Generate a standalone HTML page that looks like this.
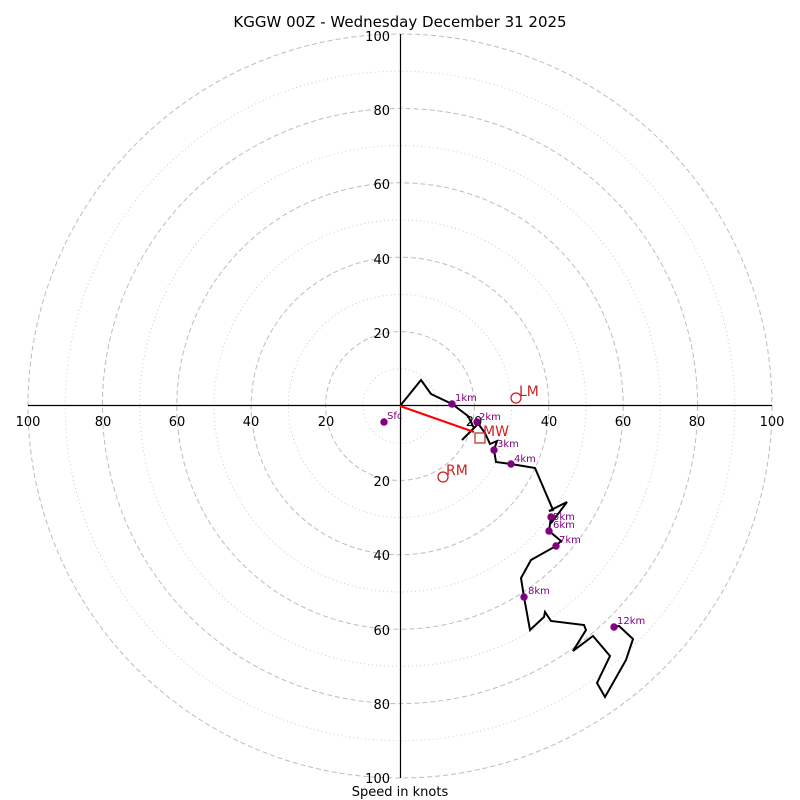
<!DOCTYPE html>
<html><head><meta charset="utf-8"><style>body{margin:0;background:#fff}svg{display:block}</style></head><body>
<svg width="800" height="800" viewBox="0 0 800 800" font-family="DejaVu Sans, Liberation Sans, sans-serif">
<rect width="800" height="800" fill="#fff"/>
<g fill="none" stroke="#bdbdbd">
<g stroke-dasharray="5,3"><circle cx="400" cy="406" r="74.4"/><circle cx="400" cy="406" r="148.8"/><circle cx="400" cy="406" r="223.2"/><circle cx="400" cy="406" r="297.6"/><circle cx="400" cy="406" r="372"/></g>
<g stroke-dasharray="1,3" stroke="#ccc"><circle cx="400" cy="406" r="37.2"/><circle cx="400" cy="406" r="111.6"/><circle cx="400" cy="406" r="186"/><circle cx="400" cy="406" r="260.4"/><circle cx="400" cy="406" r="334.8"/></g>
</g>
<line x1="28" y1="405.5" x2="772" y2="405.5" stroke="#000" stroke-width="1.2"/>
<line x1="400.5" y1="34" x2="400.5" y2="778" stroke="#000" stroke-width="1.2"/>
<g font-size="13" fill="#000" text-anchor="middle">
<text x="28" y="426">100</text><text x="103" y="426">80</text><text x="177" y="426">60</text><text x="251" y="426">40</text><text x="326" y="426">20</text><text x="474" y="426">20</text><text x="549" y="426">40</text><text x="623" y="426">60</text><text x="697" y="426">80</text><text x="772" y="426">100</text>
</g>
<g font-size="13" fill="#000" text-anchor="end">
<text x="390" y="41">100</text><text x="390" y="115">80</text><text x="390" y="189">60</text><text x="390" y="264">40</text><text x="390" y="338">20</text><text x="390" y="486">20</text><text x="390" y="560">40</text><text x="390" y="635">60</text><text x="390" y="709">80</text><text x="390" y="783">100</text>
</g>
<polyline fill="none" stroke="#000" stroke-width="2" points="400,406 421,380 431,394 452,404 468,416 474,428 462,440 478,424 477,422 485,433 490,444 497,441 494,450 496,462 511,464 535,468 553,510 549,511 567,502 552,522 551,517 549,531 561,541 556,546 531,560 521,578 524,597 530,630 544,617 545,612 551,621 584,625 586,630 573,651 593,636 610,656 597,683 605,697 626,660 633,639 619,626 614,627"/>
<line x1="400" y1="406" x2="474" y2="432" stroke="#f00" stroke-width="2"/>
<rect x="475" y="433" width="10" height="10" fill="none" stroke="#b22" stroke-width="1.2"/>
<circle cx="516" cy="398" r="5" fill="none" stroke="#c22" stroke-width="1.3"/>
<circle cx="443" cy="477" r="5" fill="none" stroke="#c22" stroke-width="1.3"/>
<g font-size="14" fill="#c22"><text x="483" y="436">MW</text><text x="519" y="396">LM</text><text x="446" y="475">RM</text></g>
<g fill="#800080"><circle cx="384" cy="422" r="3.7"/><circle cx="452" cy="404" r="3.7"/><circle cx="477" cy="422" r="3.7"/><circle cx="494" cy="450" r="3.7"/><circle cx="511" cy="464" r="3.7"/><circle cx="551" cy="517" r="3.7"/><circle cx="549" cy="531" r="3.7"/><circle cx="556" cy="546" r="3.7"/><circle cx="524" cy="597" r="3.7"/><circle cx="614" cy="627" r="3.7"/></g>
<g font-size="10" fill="#800080"><text x="387" y="419">Sfc</text><text x="455" y="401">1km</text><text x="479" y="420">2km</text><text x="497" y="447">3km</text><text x="514" y="462">4km</text><text x="553" y="520">5km</text><text x="553" y="528">6km</text><text x="559" y="543">7km</text><text x="528" y="594">8km</text><text x="617" y="624">12km</text></g>
<text x="400" y="27" font-size="15" text-anchor="middle">KGGW 00Z - Wednesday December 31 2025</text>
<text x="400" y="796" font-size="13" text-anchor="middle">Speed in knots</text>
</svg>
</body></html>
